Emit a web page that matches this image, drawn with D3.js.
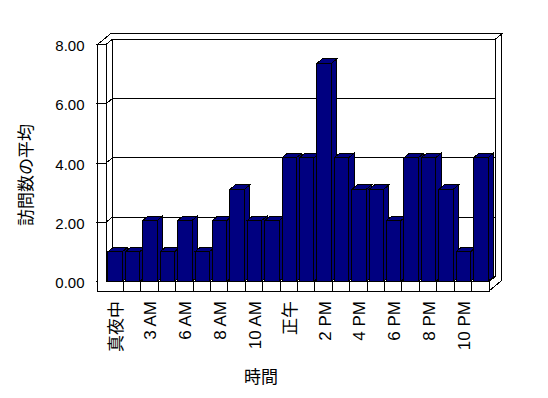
<!DOCTYPE html>
<html>
<head>
<meta charset="utf-8">
<script src="https://cdn.jsdelivr.net/npm/d3@7/dist/d3.min.js"></script>
<style>
  body { margin: 0; background: #fff; }
  svg text { font-family: "Liberation Sans", "Noto Sans CJK JP", sans-serif; fill: #000; }
</style>
</head>
<body>
<div id="chart"></div>
<script>
const categories = ["真夜中", "1 AM", "3 AM", "5 AM", "6 AM", "7 AM", "8 AM", "9 AM", "10 AM", "11 AM",
  "正午", "1 PM", "2 PM", "3 PM", "4 PM", "5 PM", "6 PM", "7 PM", "8 PM", "9 PM", "10 PM", "11 PM"];
const visits = [1.0, 1.0, 2.05, 1.0, 2.05, 1.0, 2.05, 3.1, 2.05, 2.05, 4.17,
  4.17, 7.35, 4.17, 3.1, 3.1, 2.05, 4.17, 4.17, 3.1, 1.0, 4.17];
const yTicks = [0, 2, 4, 6, 8];
const xTitle = "時間";
const yTitle = "訪問数の平均";

const width = 548, height = 398;
// oblique depth: floor front edge -> back wall face
const DX = 6.4, DY = -5.3;
const wallT = 8.5;     // left wall thickness
const floorT = 9.3;    // floor thickness
const barZ = [0.08, 0.92];

const svg = d3.select("#chart").append("svg")
  .attr("width", width).attr("height", height)
  .style("shape-rendering", "crispEdges");

const x = d3.scaleBand().domain(categories).range([106, 489]).paddingInner(0.17).paddingOuter(0.085);
const y = d3.scaleLinear().domain([0, 8]).range([281.7, 44.5]);

const x0 = 106, x1 = 489;
const yTop = y(8), yBase = y(0);
const pt = (px, v, z) => [px + z * DX, y(v) + z * DY];
const poly = pts => "M" + pts.map(p => p.join(",")).join("L") + "Z";

const frame = svg.append("g").attr("fill", "#fff").attr("stroke", "#000").attr("stroke-width", 1);

// back wall front face + left wall inner face
frame.append("path").attr("d", poly([pt(x0, 8, 1), pt(x1, 8, 1), pt(x1, 0, 1), pt(x0, 0, 1)]));
frame.append("path").attr("d", poly([pt(x0, 8, 0), pt(x0, 8, 1), pt(x0, 0, 1), pt(x0, 0, 0)]));
// floor top
frame.append("path").attr("d", poly([pt(x0, 0, 0), pt(x1, 0, 0), pt(x1, 0, 1), pt(x0, 0, 1)]));

// gridlines on left wall and back wall
const grid = svg.append("g").attr("stroke", "#000").attr("fill", "none");
yTicks.filter(d => d > 0).forEach(v => {
  grid.append("path").attr("d", "M" + [x0 - wallT - 2, y(v)] + "L" + pt(x0, v, 0) + "L" + pt(x0, v, 1) + "L" + pt(x1, v, 1));
});
grid.append("path").attr("d", "M" + [x0 - wallT - 2, yBase] + "L" + [x0 - wallT, yBase]);

// top of left wall and back wall slabs
frame.append("path").attr("d", poly([
  [x0 - wallT, yTop], [x0 - wallT + 2 * DX, yTop + 2 * DY], pt(x1, 8, 2), pt(x1, 8, 1), pt(x0, 8, 1), pt(x0, 8, 0)
]));
// right side of back wall and floor
frame.append("path").attr("d", poly([
  pt(x1, 0, 0), pt(x1, 0, 1), pt(x1, 8, 1), pt(x1, 8, 2), [x1 + 2 * DX, yBase + floorT + 2 * DY], [x1, yBase + floorT]
]));
// front faces of left wall and floor
frame.append("path").attr("d", poly([
  [x0 - wallT, yTop], [x0, yTop], [x0, yBase], [x1, yBase], [x1, yBase + floorT], [x0 - wallT, yBase + floorT]
]));
// category dividers on floor front
const step = x.step();
d3.range(1, categories.length).forEach(k => {
  grid.append("line")
    .attr("x1", x0 + k * step).attr("x2", x0 + k * step)
    .attr("y1", yBase).attr("y2", yBase + floorT);
});

// bars
const bars = svg.append("g").attr("fill", "#000080").attr("stroke", "#000");
categories.forEach((c, i) => {
  const v = visits[i];
  const a = x(c), b = x(c) + x.bandwidth();
  const [zf, zb] = barZ;
  const g = bars.append("g");
  // side face
  g.append("path").attr("d", poly([pt(b, 0, zf), pt(b, 0, zb), pt(b, v, zb), pt(b, v, zf)]));
  // top face
  g.append("path").attr("d", poly([pt(a, v, zf), pt(a, v, zb), pt(b, v, zb), pt(b, v, zf)]));
  // front face
  g.append("path").attr("d", poly([pt(a, 0, zf), pt(b, 0, zf), pt(b, v, zf), pt(a, v, zf)]));
});

// value labels
svg.append("g").selectAll("text").data(yTicks).join("text")
  .attr("x", 84.5).attr("y", d => y(d) + 1)
  .attr("text-anchor", "end").attr("dominant-baseline", "central")
  .style("font-size", "15px")
  .text(d => d3.format(".2f")(d));

// category labels (every other one, like the source)
svg.append("g").selectAll("text")
  .data(categories.filter((d, i) => i % 2 === 0)).join("text")
  .attr("transform", d => `translate(${x(d) + x.bandwidth() / 2 + 1},301) rotate(-90)`)
  .attr("text-anchor", "end").attr("dy", "0.35em")
  .style("font-size", "17px")
  .text(d => d);

svg.append("text")
  .attr("x", 261).attr("y", 377)
  .attr("text-anchor", "middle").attr("dominant-baseline", "central")
  .style("font-size", "17px")
  .text(xTitle);

svg.append("text")
  .attr("transform", "translate(26,175) rotate(-90)")
  .attr("text-anchor", "middle").attr("dominant-baseline", "central")
  .style("font-size", "17px")
  .text(yTitle);
</script>
</body>
</html>
